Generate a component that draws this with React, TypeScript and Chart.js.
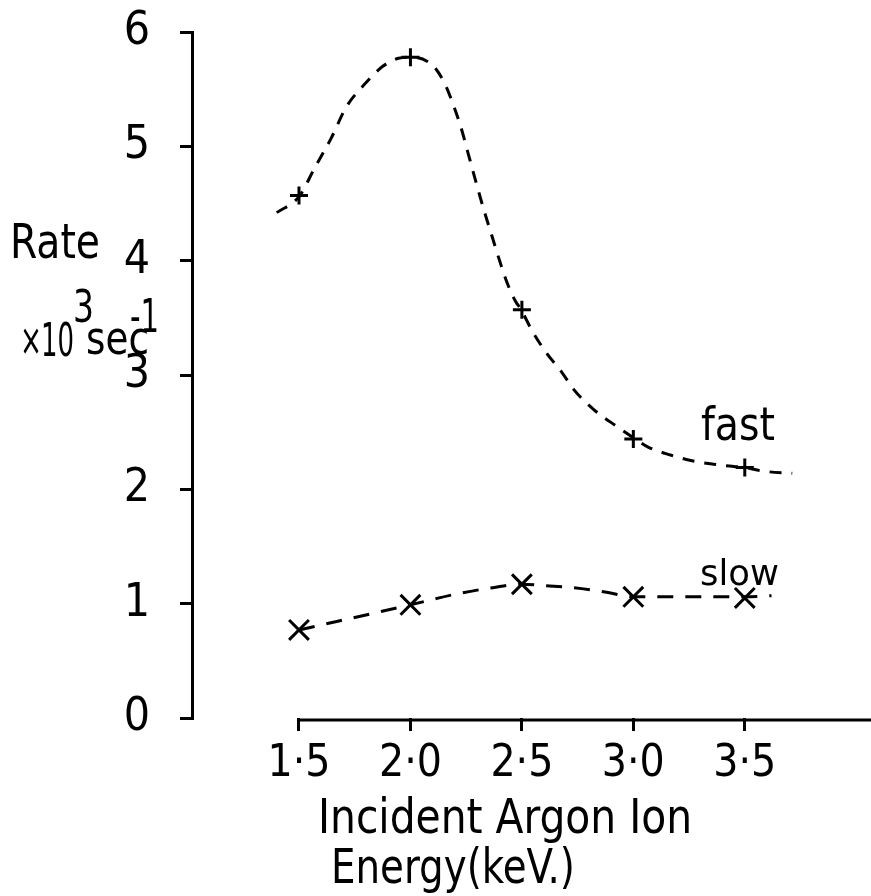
import React, { useEffect, useRef } from "react";
import { Chart, registerables } from "chart.js";

Chart.register(...registerables);

const FONT = '"Liberation Sans Narrow", "DejaVu Sans Condensed", "Liberation Sans", sans-serif';

// Energy (keV) of the measured points
const energies = [1.5, 2.0, 2.5, 3.0, 3.5];
// Fast rate (x10^3 sec^-1) measured points
const fastRates = [4.57, 5.78, 3.57, 2.44, 2.19];
// Slow rate measured points
const slowRates = [0.77, 0.99, 1.17, 1.06, 1.05];

// hand-drawn fitted curve
const fastCurveX = [1.4, 1.5, 1.57, 1.644, 1.714, 1.793, 1.876, 1.946, 2.007, 2.104, 2.156, 2.191, 2.226, 2.26, 2.295, 2.33, 2.365, 2.4, 2.435, 2.47, 2.497, 2.545, 2.611, 2.677, 2.734, 2.821, 2.926, 3.009, 3.066, 3.167, 3.263, 3.359, 3.451, 3.503, 3.578, 3.713];
const fastCurveY = [4.42, 4.56, 4.81, 5.07, 5.35, 5.54, 5.7, 5.77, 5.78, 5.7, 5.54, 5.37, 5.17, 4.93, 4.68, 4.44, 4.22, 4.0, 3.8, 3.65, 3.57, 3.39, 3.19, 3.03, 2.87, 2.7, 2.55, 2.44, 2.37, 2.3, 2.25, 2.22, 2.2, 2.19, 2.16, 2.14];

const slowCurveX = [1.5, 2.0, 2.22, 2.37, 2.5, 2.585, 2.73, 2.88, 3.0, 3.07, 3.23, 3.36, 3.5, 3.62];
const slowCurveY = [0.77, 0.99, 1.09, 1.14, 1.17, 1.16, 1.14, 1.1, 1.06, 1.06, 1.06, 1.06, 1.06, 1.07];

const xTicks = [1.5, 2.0, 2.5, 3.0, 3.5];
const yTicks = [0, 1, 2, 3, 4, 5, 6];

const pts = (xs: number[], ys: number[]) => xs.map((x, i) => ({ x, y: ys[i] }));

const noPad = (s: any) => {
  s.paddingTop = 0;
  s.paddingBottom = 0;
  s.paddingLeft = 0;
  s.paddingRight = 0;
};

const textPlugin = {
  id: "texts",
  afterDraw(chart: any) {
    const ctx = chart.ctx;
    const xs = chart.scales.x;
    ctx.save();
    // x axis line, starting at the first tick
    ctx.strokeStyle = "#000";
    ctx.lineWidth = 3;
    ctx.beginPath();
    const yb = chart.chartArea.bottom + 2;
    ctx.moveTo(xs.getPixelForValue(xTicks[0]) - 2, yb);
    ctx.lineTo(chart.width, yb);
    ctx.stroke();

    ctx.fillStyle = "#000";
    ctx.textBaseline = "alphabetic";
    ctx.textAlign = "left";
    const t = (s: string, size: number, x: number, y: number, w: number) => {
      ctx.font = `${size}px ${FONT}`;
      const m = ctx.measureText(s).width;
      const k = w / m;
      ctx.save();
      ctx.translate(x, y);
      ctx.scale(k, 1);
      ctx.fillText(s, 0, 0);
      ctx.restore();
    };
    t("Rate", 48, 10, 258, 90);
    t("×", 44, 20, 355, 22);
    t("10", 46, 41, 356, 33);
    t("3", 44, 73, 322, 21);
    t("sec", 46, 86, 354, 63);
    t("-1", 46, 130, 332, 29);
    t("fast", 46, 701, 440, 74);
    t("slow", 35, 700, 585, 79);
    t("Incident Argon Ion", 48, 318, 833, 374);
    t("Energy(keV.)", 48, 331, 883, 244);
    ctx.restore();
  },
};

export default function App() {
  const ref = useRef<HTMLCanvasElement | null>(null);
  useEffect(() => {
    if (!ref.current) return;
    const chart = new Chart(ref.current, {
      type: "scatter",
      data: {
        datasets: [
          {
            data: pts(fastCurveX, fastCurveY),
            showLine: true,
            borderColor: "#000",
            borderWidth: 3,
            borderDash: [12, 10],
            pointRadius: 0,
            cubicInterpolationMode: "monotone",
            fill: false,
          },
          {
            data: pts(energies, fastRates),
            showLine: false,
            pointStyle: "cross",
            pointRadius: 9,
            borderColor: "#000",
            borderWidth: 3,
          },
          {
            data: pts(slowCurveX, slowCurveY),
            showLine: true,
            borderColor: "#000",
            borderWidth: 3,
            borderDash: [16, 12],
            pointRadius: 0,
            cubicInterpolationMode: "monotone",
            fill: false,
          },
          {
            data: pts(energies, slowRates),
            showLine: false,
            pointStyle: "crossRot",
            pointRadius: 14,
            borderColor: "#000",
            borderWidth: 3,
          },
        ],
      },
      options: {
        animation: false,
        responsive: true,
        maintainAspectRatio: false,
        clip: false,
        layout: { padding: { top: 32, right: 0, left: 0, bottom: 0 } },
        plugins: { legend: { display: false }, tooltip: { enabled: false } },
        scales: {
          x: {
            type: "linear",
            min: 1.02,
            max: 3.99,
            afterBuildTicks: (s: any) => {
              s.ticks = xTicks.map((v) => ({ value: v }));
            },
            afterFit: (s: any) => {
              s.height = 178;
              noPad(s);
            },
            ticks: {
              color: "#000",
              font: { family: FONT, size: 44 },
              padding: 7,
              maxRotation: 0,
              autoSkip: false,
              callback: (v: any) => Number(v).toFixed(1).replace(".", "·"),
            },
            grid: { drawOnChartArea: false, drawTicks: true, tickLength: 13, color: "#000", lineWidth: 3 },
            border: { display: false },
          },
          y: {
            min: 0,
            max: 6,
            afterBuildTicks: (s: any) => {
              s.ticks = yTicks.map((v) => ({ value: v }));
            },
            afterFit: (s: any) => {
              s.width = 192;
              noPad(s);
            },
            ticks: {
              color: "#000",
              font: { family: FONT, size: 46 },
              padding: 30,
              callback: (v: any) => String(v),
            },
            grid: { drawOnChartArea: false, drawTicks: true, tickLength: 12, color: "#000", lineWidth: 3 },
            border: { display: true, color: "#000", width: 3 },
          },
        },
      },
      plugins: [textPlugin],
    } as any);
    return () => chart.destroy();
  }, []);
  return (
    <div style={{ position: "absolute", left: 0, top: 0, width: 871, height: 896, background: "#fff" }}>
      <canvas ref={ref} />
    </div>
  );
}
